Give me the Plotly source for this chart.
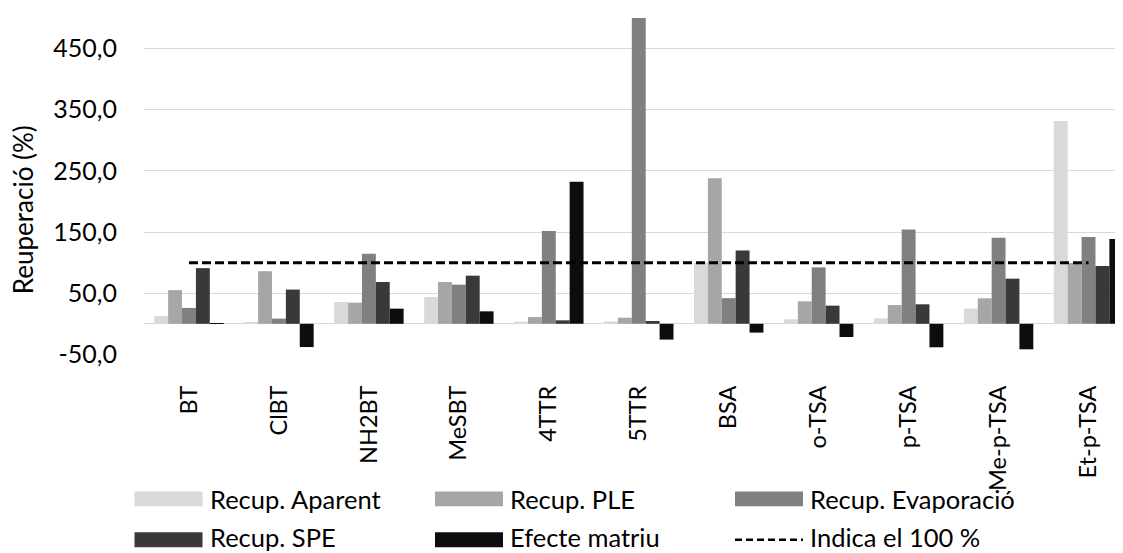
import plotly.graph_objects as go

categories = ["BT", "ClBT", "NH2BT", "MeSBT", "4TTR", "5TTR", "BSA", "o-TSA", "p-TSA", "Me-p-TSA", "Et-p-TSA"]
recup_aparent = [12.7, 2.0, 35.6, 43.8, 3.5, 4.0, 100.0, 7.4, 9.0, 24.8, 331.4]
recup_ple = [55.0, 86.0, 34.6, 68.3, 11.0, 10.0, 238.0, 36.8, 30.7, 41.7, 99.5]
recup_evap = [26.0, 8.5, 114.7, 64.0, 151.6, 500.0, 42.0, 92.3, 154.0, 140.8, 141.9]
recup_spe = [91.0, 56.0, 68.3, 78.7, 5.7, 4.6, 120.0, 29.7, 31.9, 73.8, 94.5]
efecte_matriu = [1.0, -38.0, 24.8, 20.4, 232.3, -25.8, -14.4, -21.6, -38.4, -41.7, 138.6]
line_100 = [100] * len(categories)

y_tick_vals = [-50, 50, 150, 250, 350, 450]
y_tick_text = ["-50,0", "50,0", "150,0", "250,0", "350,0", "450,0"]

series_names = ["Recup. Aparent", "Recup. PLE", "Recup. Evaporació", "Recup. SPE", "Efecte matriu"]
series_values = [recup_aparent, recup_ple, recup_evap, recup_spe, efecte_matriu]
series_colors = ["#d9d9d9", "#a6a6a6", "#808080", "#3a3838", "#0d0d0d"]
line_name = "Indica el 100 %"

FONT = "Lato"
OFF = 8  # page body margin in the browser
W, H = 1123 - OFF, 553 - OFF
L, R_PX, T, B = 144 - OFF, 1123 - OFF, 17.7 - OFF, 355.0 - OFF

fig = go.Figure()
for name, vals, col in zip(series_names, series_values, series_colors):
    fig.add_trace(go.Bar(x=categories, y=vals, name=name, marker=dict(color=col, line=dict(width=0)),
                         showlegend=False))
fig.add_trace(go.Scatter(x=categories, y=line_100, name=line_name, mode="lines",
                         line=dict(color="black", width=3, dash="9px,4px"), showlegend=False))

def px2x(px):
    return (px - OFF - L) / (R_PX - L)

def px2y(py):
    return (B - (py - OFF)) / (B - T)

shapes = []
annotations = []
# manual legend
legend_items = list(zip(series_names, series_colors)) + [(line_name, None)]
col_x = [134.5, 435.0, 735.0]
row_y = [499.0, 540.0]
text_y = [499.0, 537.5]
for i, (name, col) in enumerate(legend_items):
    cx = col_x[i % 3]
    cy = row_y[i // 3]
    if col is not None:
        shapes.append(dict(type="rect", xref="paper", yref="paper",
                           x0=px2x(cx), x1=px2x(cx + 68), y0=px2y(cy + 7.5), y1=px2y(cy - 7.5),
                           fillcolor=col, line=dict(width=0)))
    else:
        shapes.append(dict(type="line", xref="paper", yref="paper",
                           x0=px2x(cx), x1=px2x(cx + 68), y0=px2y(cy), y1=px2y(cy),
                           line=dict(color="black", width=2.5, dash="7px,4px")))
    annotations.append(dict(text=name, xref="paper", yref="paper", x=px2x(cx + 73), y=px2y(text_y[i // 3]),
                            xanchor="left", yanchor="middle", showarrow=False,
                            font=dict(family=FONT, size=25.5, color="black")))

annotations.append(dict(text="Reuperació (%)", xref="paper", yref="paper", x=px2x(23), y=px2y(210),
                        textangle=-90, xanchor="center", yanchor="middle", showarrow=False,
                        font=dict(family=FONT, size=26, color="black")))

fig.update_layout(
    width=W, height=H,
    margin=dict(l=L, r=W - R_PX, t=T, b=H - B, pad=0),
    paper_bgcolor="white", plot_bgcolor="white",
    barmode="group", bargap=0.228, bargroupgap=0,
    separators=", ",
    showlegend=False,
    shapes=shapes, annotations=annotations,
    font=dict(family=FONT, color="black"),
)
fig.update_xaxes(type="category", range=[-0.5, 10.383], showgrid=False, showline=False, zeroline=False,
                 ticks="", tickangle=-90, tickfont=dict(family=FONT, size=23.5, color="black"),
                 ticklabelstandoff=25)
fig.update_yaxes(range=[-51, 500], tickmode="array", tickvals=y_tick_vals, ticktext=y_tick_text,
                 showgrid=True, gridcolor="#d9d9d9", gridwidth=1.3, zeroline=True, zerolinecolor="#d9d9d9",
                 zerolinewidth=1.3, showline=False, ticks="", ticklabelstandoff=26,
                 tickfont=dict(family=FONT, size=25, color="black"))

fig.write_html("out.html")
